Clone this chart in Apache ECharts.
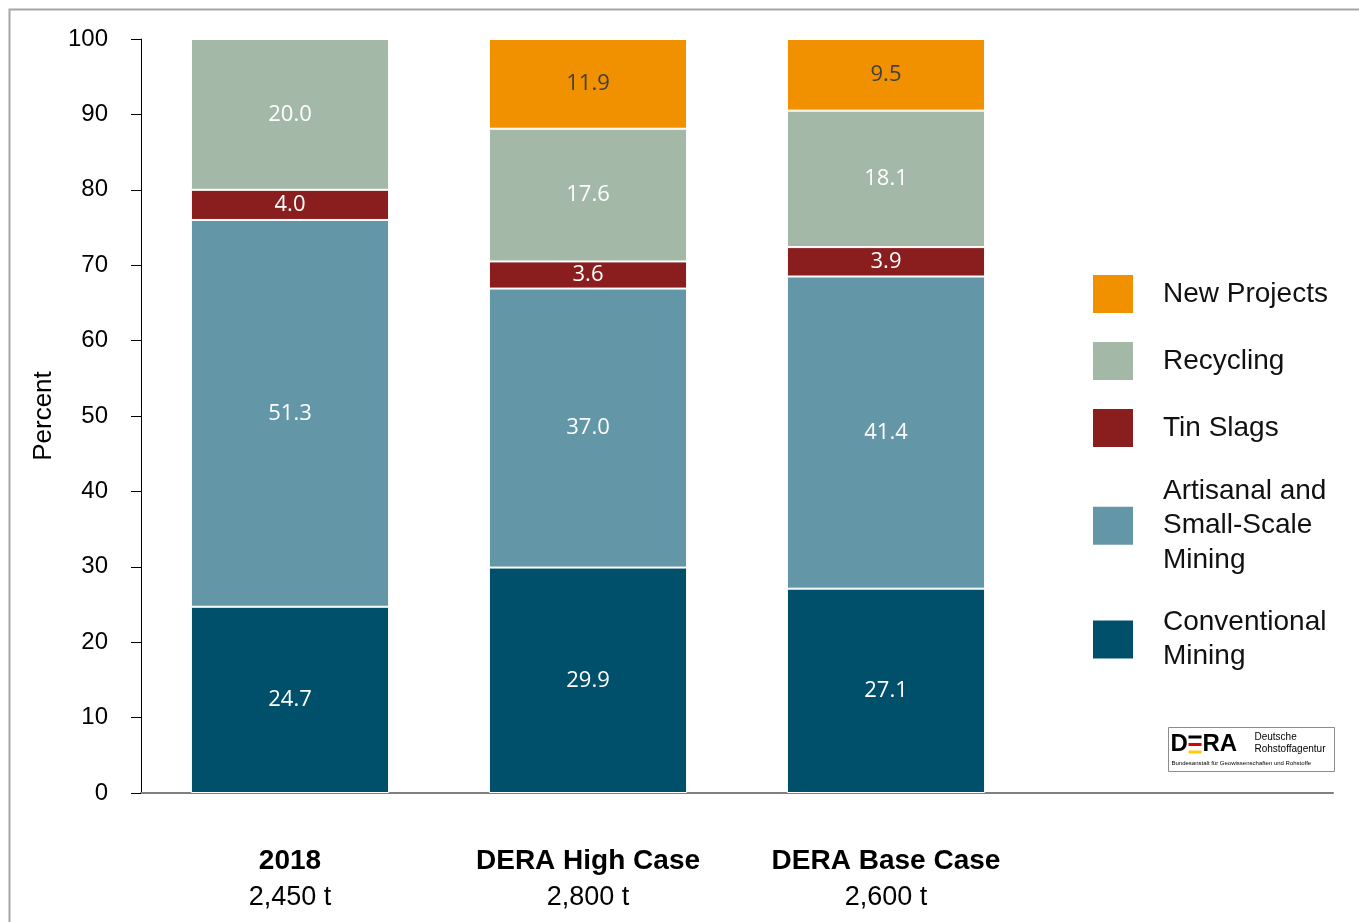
<!DOCTYPE html>
<html>
<head>
<meta charset="utf-8">
<script src="https://cdn.jsdelivr.net/npm/echarts@6/dist/echarts.min.js"></script>
<style>
  html, body { margin: 0; padding: 0; background: #ffffff; }
  #chart { width: 1359px; height: 922px; }
</style>
</head>
<body>
<div id="chart"></div>
<script>
// Tin supply scenarios, share of each source in percent
const categories = ['2018', 'DERA High Case', 'DERA Base Case', ''];
const tonnages = ['2,450 t', '2,800 t', '2,600 t', ''];
const conventionalMining = [24.7, 29.9, 27.1];
const artisanalMining = [51.3, 37.0, 41.4];
const tinSlags = [4.0, 3.6, 3.9];
const recycling = [20.0, 17.6, 18.1];
const newProjects = [null, 11.9, 9.5];
const yTicks = [0, 10, 20, 30, 40, 50, 60, 70, 80, 90, 100];

const seriesDefs = [
  { name: 'Conventional Mining', legend: 'Conventional\nMining', data: conventionalMining, color: '#00506b', label: '#ffffff' },
  { name: 'Artisanal and Small-Scale Mining', legend: 'Artisanal and\nSmall-Scale\nMining', data: artisanalMining, color: '#6397a7', label: '#ffffff' },
  { name: 'Tin Slags', legend: 'Tin Slags', data: tinSlags, color: '#8a1e1e', label: '#ffffff' },
  { name: 'Recycling', legend: 'Recycling', data: recycling, color: '#a3b8a6', label: '#ffffff' },
  { name: 'New Projects', legend: 'New Projects', data: newProjects, color: '#f29100', label: '#404040' }
];

const chart = echarts.init(document.getElementById('chart'), null, { renderer: 'canvas' });

const series = seriesDefs.map(s => ({
  name: s.name,
  type: 'bar',
  stack: 'total',
  barWidth: '66.5%',
  data: s.data,
  itemStyle: { color: s.color, borderColor: '#ffffff', borderWidth: 1 },
  label: {
    show: true,
    position: 'inside',
    color: s.label,
    fontFamily: 'Open Sans',
    fontSize: 22,
    formatter: p => (p.value == null ? '' : p.value.toFixed(1))
  },
  emphasis: { disabled: true }
}));

// One legend block per entry so each can sit at its own height
const legendTops = { 'New Projects': 273, 'Recycling': 340, 'Tin Slags': 407, 'Artisanal and Small-Scale Mining': 474, 'Conventional Mining': 605 };
const legends = seriesDefs.map(s => ({
  data: [s.name],
  left: 1091,
  top: legendTops[s.name],
  padding: 0,
  orient: 'vertical',
  itemWidth: 42,
  itemHeight: 40,
  itemGap: 0,
  selectedMode: false,
  icon: 'rect',
  formatter: () => s.legend,
  textStyle: {
    fontFamily: 'Liberation Sans',
    fontSize: 28,
    color: '#111111',
    lineHeight: 34.5,
    padding: [0, 0, 0, 24]
  }
}));

chart.setOption({
  animation: false,
  backgroundColor: '#ffffff',
  grid: { left: 141, right: 26, top: 39, bottom: 129, containLabel: false },
  legend: legends,
  xAxis: {
    type: 'category',
    data: categories,
    axisLine: { show: true, lineStyle: { color: '#7f7f7f', width: 2 } },
    axisTick: { show: false },
    axisLabel: {
      margin: 51,
      interval: 0,
      formatter: (v, i) => v ? '{b|' + v + '}\n{t|' + tonnages[i] + '}' : '',
      rich: {
        b: { fontFamily: 'Liberation Sans', fontWeight: 'bold', fontSize: 28, color: '#000000', lineHeight: 35 },
        t: { fontFamily: 'Liberation Sans', fontSize: 27, color: '#000000', lineHeight: 37 }
      }
    }
  },
  yAxis: {
    type: 'value',
    min: yTicks[0],
    max: yTicks[yTicks.length - 1],
    interval: 10,
    name: 'Percent',
    nameLocation: 'middle',
    nameGap: 84,
    nameTextStyle: { fontFamily: 'Liberation Sans', fontSize: 26, color: '#000000' },
    axisLine: { show: true, lineStyle: { color: '#000000', width: 1 } },
    axisTick: { show: true, inside: false, length: 10, lineStyle: { color: '#000000' } },
    axisLabel: { margin: 33, fontFamily: 'Liberation Sans', fontSize: 24, color: '#000000' },
    splitLine: { show: false }
  },
  graphic: [
    // frame
    { type: 'rect', shape: { x: 9.5, y: 9.5, width: 1400, height: 1000 }, style: { fill: 'none', stroke: '#a6a6a6', lineWidth: 2 }, silent: true },
    // agency logo
    { type: 'group', left: 1168, top: 727, children: [
      { type: 'rect', shape: { x: 0, y: 0, width: 166, height: 44 }, style: { fill: '#ffffff', stroke: '#8c8c8c', lineWidth: 1 } },
      { type: 'text', x: 2, y: 5, style: { text: 'D', font: 'bold 24px "Liberation Sans"', fill: '#000000' } },
      { type: 'rect', shape: { x: 20, y: 8, width: 13, height: 3 }, style: { fill: '#000000' } },
      { type: 'rect', shape: { x: 20, y: 15.5, width: 13, height: 3 }, style: { fill: '#dd0000' } },
      { type: 'rect', shape: { x: 20, y: 23, width: 13, height: 3 }, style: { fill: '#ffcc00' } },
      { type: 'text', x: 34, y: 5, style: { text: 'RA', font: 'bold 24px "Liberation Sans"', fill: '#000000' } },
      { type: 'text', x: 86, y: 5, style: { text: 'Deutsche', font: '10px "Liberation Sans"', fill: '#000000' } },
      { type: 'text', x: 86, y: 17, style: { text: 'Rohstoffagentur', font: '10px "Liberation Sans"', fill: '#000000' } },
      { type: 'text', x: 3, y: 33, style: { text: 'Bundesanstalt für Geowissenschaften und Rohstoffe', font: '6px "Liberation Sans"', fill: '#000000' } }
    ] }
  ],
  series: series
});
</script>
</body>
</html>
